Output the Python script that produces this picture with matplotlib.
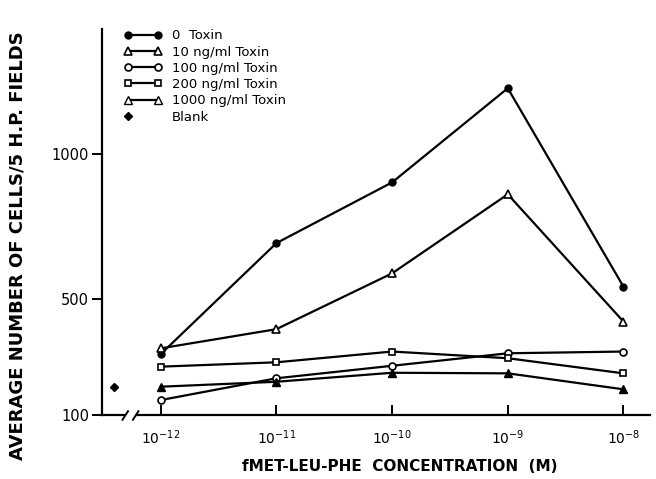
import matplotlib
matplotlib.use('Agg')
import matplotlib.pyplot as plt

conc = [1e-12, 1e-11, 1e-10, 1e-9, 1e-8]
conc_labels = ['$10^{-12}$', '$10^{-11}$', '$10^{-10}$', '$10^{-9}$', '$10^{-8}$']

toxin_0 = [311, 693, 902, 1226, 543]
toxin_10 = [331, 397, 589, 861, 423]
toxin_100 = [153, 228, 271, 314, 320]
toxin_200 = [268, 283, 320, 297, 245]
toxin_1000 = [199, 216, 247, 245, 190]

blank_x = 10 ** -12.4
blank_y = 199

fig = plt.figure(figsize=(6.56, 4.79), dpi=100)
ax = fig.add_axes([0.155, 0.1326, 0.836, 0.807])

lw = 1.6
ms = 5
ax.plot(conc, toxin_0, 'k-', marker='o', ms=ms, lw=lw, label='0  Toxin')
ax.plot(conc, toxin_10, 'k-', marker='^', ms=ms + 0.5, mfc='white', mew=1.2, lw=lw, label='10 ng/ml Toxin')
ax.plot(conc, toxin_100, 'k-', marker='o', ms=ms, mfc='white', mew=1.2, lw=lw, label='100 ng/ml Toxin')
ax.plot(conc, toxin_200, 'k-', marker='s', ms=ms - 0.5, mfc='white', mew=1.2, lw=lw, label='200 ng/ml Toxin')
ax.plot(conc, toxin_1000, 'k-', marker='^', ms=ms + 0.5, lw=lw, label='1000 ng/ml Toxin')
ax.plot([blank_x], [blank_y], 'kD', ms=4.5, ls='none', label='Blank')

ax.set_xscale('log')
ax.set_xlim(10 ** -12.51, 10 ** -7.77)
ax.set_ylim(100, 1430)
ax.set_xticks(conc)
ax.set_xticklabels(conc_labels)
ax.minorticks_off()
ax.set_yticks([100, 500, 1000])

ax.spines['top'].set_visible(False)
ax.spines['right'].set_visible(False)
ax.spines['bottom'].set_visible(False)
ax.spines['left'].set_linewidth(1.6)
ax.tick_params(axis='y', direction='out', length=7, width=1.4, labelsize=10.5, pad=2)
ax.tick_params(axis='x', direction='in', length=7, width=1.4, labelsize=10, pad=9)

# x axis with a break
tr = ax.transAxes
ax.plot([0, 0.043], [0, 0], color='k', lw=1.6, transform=tr, clip_on=False)
ax.plot([0.064, 1], [0, 0], color='k', lw=1.6, transform=tr, clip_on=False)
ax.plot([0.038, 0.048], [-0.011, 0.011], color='k', lw=1.4, transform=tr, clip_on=False)
ax.plot([0.057, 0.067], [-0.011, 0.011], color='k', lw=1.4, transform=tr, clip_on=False)

ax.set_ylabel('AVERAGE NUMBER OF CELLS/5 H.P. FIELDS', fontsize=13, fontweight='bold')
ax.yaxis.set_label_coords(-0.137, 0.4386)
ax.set_xlabel('fMET-LEU-PHE  CONCENTRATION  (M)', fontsize=11, fontweight='bold')
ax.xaxis.set_label_coords(0.544, -0.1125)

leg = ax.legend(loc='upper left', bbox_to_anchor=(0.02, 1.03), frameon=False,
                numpoints=2, handlelength=2.8, handletextpad=0.8,
                labelspacing=0.25, fontsize=9.5)
leg.legend_handles[4].set_markerfacecolor('white')
leg.legend_handles[5].set_markevery([0])

plt.savefig('out.png', dpi=100)
